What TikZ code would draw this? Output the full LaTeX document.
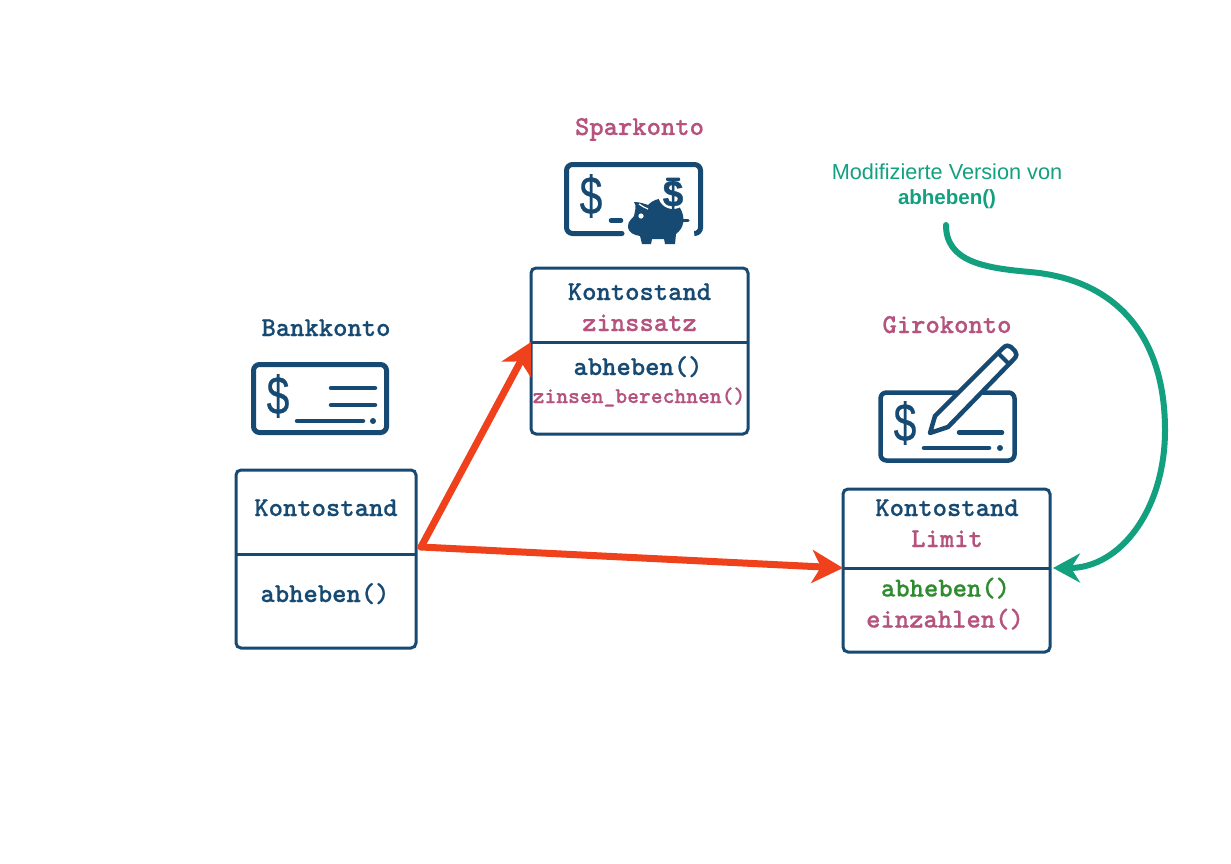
\documentclass[tikz,border=0pt]{standalone}
\usepackage{fontspec}
\usepackage{graphicx}
\setmainfont{Liberation Sans}
\newfontfamily\monob{lmmonolt10-bold.otf}[FakeBold=0.6]
\newfontfamily\dollarfont{Liberation Sans}[FakeBold=0.6]
\newfontfamily\coinfont{Liberation Sans Bold}[FakeBold=1]
\usetikzlibrary{arrows.meta}
\definecolor{navy}{HTML}{174A73}
\definecolor{rosa}{HTML}{B5527E}
\definecolor{gruen}{HTML}{2F8B2F}
\definecolor{teal2}{HTML}{12A07F}
\definecolor{rot}{HTML}{F0411D}
\newcommand{\mt}[1]{\fontsize{#1}{#1}\selectfont\monob}
\newcommand{\bigdollar}{\scalebox{0.85}[1.12]{\dollarfont\$}}
\tikzset{
 x=1pt,y=-1pt,
 lbl/.style={inner sep=0,outer sep=0,anchor=base,font=\mt{27.3}},
 small/.style={lbl,font=\mt{22.5}},
 klass/.style={draw=navy,line width=3pt,rounded corners=5pt,inner sep=0,outer sep=0,anchor=north west},
 divider/.style={draw=navy,line width=3pt},
 icon/.style={draw=navy,line width=5pt,rounded corners=6pt},
 ink/.style={draw=navy,line width=4.5pt,line cap=round},
 dollar/.style={inner sep=0,text=navy,font=\fontsize{48}{48}\selectfont},
 inherit/.style={draw=rot,line width=7pt,line cap=round,-{Stealth[length=31pt,width=33pt,inset=9pt]}},
 override/.style={draw=teal2,line width=6pt,line cap=round,-{Stealth[length=27pt,width=29pt,inset=9pt]}},
}
\begin{document}
\begin{tikzpicture}
\useasboundingbox (0,0) rectangle (1231,864);
\fill[white] (0,0) rectangle (1231,864);

% class boxes
\node[klass,minimum width=180pt,minimum height=178pt] (bank) at (236,470) {};
\node[klass,minimum width=217pt,minimum height=166pt] (spar) at (531,268) {};
\node[klass,minimum width=207pt,minimum height=163pt] (giro) at (843,489) {};
\coordinate (bankL) at (236,554); \coordinate (bankR) at (416,554);
\coordinate (sparL) at (531,342); \coordinate (sparR) at (748,342);
\coordinate (giroL) at (843,568); \coordinate (giroR) at (1050,568);
\draw[divider] (bankL) -- (bankR);
\draw[divider] (sparL) -- (sparR);
\draw[divider] (giroL) -- (giroR);

% titles
\node[lbl,text=navy] (t1) at (326,336) {Bankkonto};
\node[lbl,text=rosa] (t2) at (639.5,135) {Sparkonto};
\node[lbl,text=rosa] (t3) at (947,333) {Girokonto};

% box text
\node[lbl,text=navy] (b1) at (326,516) {Kontostand};
\node[lbl,text=navy] (b2) at (325,602) {abheben()};
\node[lbl,text=navy] (s1) at (639.5,300) {Kontostand};
\node[lbl,text=rosa] (s2) at (639.5,331) {zinssatz};
\node[lbl,text=navy] (s3) at (638,375) {abheben()};
\node[small,text=rosa] (s4) at (639,403) {zinsen\_berechnen()};
\node[lbl,text=navy] (g1) at (947,516) {Kontostand};
\node[lbl,text=rosa] (g2) at (947,547) {Limit};
\node[lbl,text=gruen] (g3) at (945.5,596.5) {abheben()};
\node[lbl,text=rosa] (g4) at (945,627.5) {einzahlen()};

% icon 1
\draw[icon] (253.5,364.5) rectangle (386.5,432.5);
\node[dollar] (d1) at (278,396) {\bigdollar};
\draw[ink] (331,388) -- (375,388);
\draw[ink] (331,405) -- (375,405);
\draw[ink] (297,421) -- (363,421);
\fill[navy] (373,421) circle (3);

% icon 2
\draw[icon,line cap=round] (622,233.5) -- (566.5,233.5) -- (566.5,164.5) -- (700.5,164.5) -- (700.5,233.5) -- (695,233.5);
\node[dollar] (d2) at (591,196) {\bigdollar};
\draw[ink] (611,220.5) -- (621,220.5);
\draw[navy,line width=3pt,line cap=round] (680,220) -- (688,220);
\fill[navy] (628,226) .. controls (628,221) and (632,219) .. (634,216) .. controls (635,210) and (637,206) .. (634,202)
  .. controls (640,202) and (645,204) .. (648,205) .. controls (656,196) and (672,196) .. (680,208)
  .. controls (686,218) and (684,228) .. (676,234) -- (675,244) -- (665,244) -- (664,239) -- (652,239) -- (651,244) -- (642,244) -- (640,236)
  .. controls (634,235) and (628,233) .. (628,226) -- cycle;
\fill[white] (641,216) circle (2.6);
\draw[white,line width=1.2pt] (639,204) .. controls (642,206) and (645,208) .. (648,209);
\fill[white] (673,194) circle (15);
\fill[white] (662,175) rectangle (684,186);
\fill[navy,rounded corners=1pt] (666,177.5) rectangle (680,181);
\node[inner sep=0,text=navy,font=\fontsize{37}{37}\selectfont\coinfont] (d2b) at (673,194) {\$};

% icon 3
\draw[icon,line width=4.5pt] (880.5,392.5) rectangle (1014.5,460.5);
\node[dollar] (d3) at (905,423) {\bigdollar};
\draw[ink] (959,432.5) -- (1002,432.5);
\draw[ink] (924,448) -- (989,448);
\fill[navy] (1000,448) circle (3);
\draw[white,line width=14pt] (942,421) -- (1010,353);
\draw[draw=navy,fill=white,line width=4.5pt,line join=round] (930,433) -- (935,416) -- (1003,348) .. controls (1006,345) and (1009,345) .. (1011,347) -- (1015,351) .. controls (1017,353) and (1017,356) .. (1014,359) -- (948,427) -- cycle;
\draw[navy,line width=4pt] (998,353) -- (1009,364);

% annotation
\node[inner sep=0,anchor=base,text=teal2,font=\fontsize{21.7}{21.7}\selectfont] (note1) at (947,179) {Modifizierte Version von};
\node[inner sep=0,anchor=base,text=teal2,font=\fontsize{20.5}{20.5}\selectfont\bfseries] (note2) at (947,204.5) {abheben()};

% connectors
\coordinate (origin) at (421,547);
\draw[inherit] (origin) -- (sparL);
\draw[inherit] (origin) -- (giroL);
\coordinate (noteEnd) at (946,225);
\coordinate (giroIn) at (1053,568);
\draw[override] (noteEnd) .. controls (946,262) and (985,268) .. (1030,272) .. controls (1120,280) and (1165,340) .. (1165,430) .. controls (1165,510) and (1120,568) .. (giroIn);
\end{tikzpicture}
\end{document}
